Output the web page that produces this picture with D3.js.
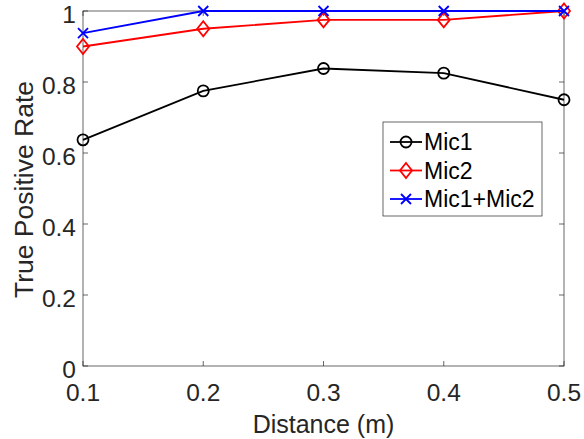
<!DOCTYPE html>
<html>
<head>
<meta charset="utf-8">
<script src="https://cdn.jsdelivr.net/npm/d3@7"></script>
<style>
  body { margin: 0; background: #fff; }
  text { font-family: "Liberation Sans", Arial, sans-serif; fill: #262626; }
</style>
</head>
<body>
<div id="chart"></div>
<script>
const distances = [0.1, 0.2, 0.3, 0.4, 0.5];
const mic1 = [0.637, 0.775, 0.838, 0.825, 0.75];
const mic2 = [0.9, 0.95, 0.975, 0.975, 1.0];
const mic12 = [0.9375, 1, 1, 1, 1];
const xTicks = [0.1, 0.2, 0.3, 0.4, 0.5];
const yTicks = [0, 0.2, 0.4, 0.6, 0.8, 1];

const width = 584, height = 439;
const margin = { top: 11, right: 20, bottom: 73, left: 83 };

const svg = d3.select('#chart').append('svg')
  .attr('width', width)
  .attr('height', height);

const x = d3.scaleLinear().domain([0.1, 0.5]).range([margin.left, width - margin.right]);
const y = d3.scaleLinear().domain([0, 1]).range([height - margin.bottom, margin.top]);

const axisColor = '#262626';
const tick = 5;

// box
const plot = svg.append('g');
plot.append('rect')
  .attr('x', x(0.1)).attr('y', y(1))
  .attr('width', x(0.5) - x(0.1)).attr('height', y(0) - y(1))
  .attr('fill', 'none').attr('stroke', axisColor).attr('stroke-width', 0.7);

// inward ticks on all sides
xTicks.forEach(t => {
  plot.append('line').attr('x1', x(t)).attr('x2', x(t)).attr('y1', y(0)).attr('y2', y(0) - tick)
    .attr('stroke', axisColor).attr('stroke-width', 0.7);
  plot.append('line').attr('x1', x(t)).attr('x2', x(t)).attr('y1', y(1)).attr('y2', y(1) + tick)
    .attr('stroke', axisColor).attr('stroke-width', 0.7);
  svg.append('text').attr('x', x(t)).attr('y', y(0) + 35)
    .attr('text-anchor', 'middle').attr('font-size', 24.5).text(t);
});
yTicks.forEach(t => {
  plot.append('line').attr('x1', x(0.1)).attr('x2', x(0.1) + tick).attr('y1', y(t)).attr('y2', y(t))
    .attr('stroke', axisColor).attr('stroke-width', 0.7);
  plot.append('line').attr('x1', x(0.5)).attr('x2', x(0.5) - tick).attr('y1', y(t)).attr('y2', y(t))
    .attr('stroke', axisColor).attr('stroke-width', 0.7);
  svg.append('text').attr('x', x(0.1) - 7).attr('y', y(t) + 12)
    .attr('text-anchor', 'end').attr('font-size', 24.5).text(t);
});

svg.append('text')
  .attr('x', (x(0.1) + x(0.5)) / 2).attr('y', 433)
  .attr('text-anchor', 'middle').attr('font-size', 25).text('Distance (m)');
svg.append('text')
  .attr('transform', `translate(33,${(y(0) + y(1)) / 2 + 1}) rotate(-90)`)
  .attr('text-anchor', 'middle').attr('font-size', 26.5).text('True Positive Rate');

const series = [
  { name: 'Mic1', values: mic1, color: '#000000', marker: 'circle' },
  { name: 'Mic2', values: mic2, color: '#ff0000', marker: 'diamond' },
  { name: 'Mic1+Mic2', values: mic12, color: '#0000ff', marker: 'cross' }
];

function drawMarker(g, type, cx, cy, color) {
  if (type === 'circle') {
    g.append('circle').attr('cx', cx).attr('cy', cy).attr('r', 5.5)
      .attr('fill', 'none').attr('stroke', color).attr('stroke-width', 1.8);
  } else if (type === 'diamond') {
    g.append('path').attr('d', `M${cx},${cy - 7.5}L${cx + 6},${cy}L${cx},${cy + 7.5}L${cx - 6},${cy}Z`)
      .attr('fill', 'none').attr('stroke', color).attr('stroke-width', 1.8);
  } else {
    const s = 5;
    g.append('path').attr('d', `M${cx - s},${cy - s}L${cx + s},${cy + s}M${cx - s},${cy + s}L${cx + s},${cy - s}`)
      .attr('fill', 'none').attr('stroke', color).attr('stroke-width', 1.8);
  }
}

const line = d3.line().x(d => x(d[0])).y(d => y(d[1]));

series.forEach(s => {
  const pts = distances.map((d, i) => [d, s.values[i]]);
  const g = svg.append('g');
  g.append('path').attr('d', line(pts))
    .attr('fill', 'none').attr('stroke', s.color).attr('stroke-width', 1.8);
  pts.forEach(p => drawMarker(g, s.marker, x(p[0]), y(p[1]), s.color));
});

// legend
const lg = svg.append('g').attr('transform', 'translate(383,122)');
lg.append('rect').attr('width', 159).attr('height', 94)
  .attr('fill', '#fff').attr('stroke', axisColor).attr('stroke-width', 0.7);
series.forEach((s, i) => {
  const cy = 20 + i * 28.5;
  lg.append('line').attr('x1', 7).attr('x2', 39).attr('y1', cy).attr('y2', cy)
    .attr('stroke', s.color).attr('stroke-width', 1.8);
  drawMarker(lg, s.marker, 23, cy, s.color);
  lg.append('text').attr('x', 41).attr('y', cy + 8).attr('font-size', 23)
    .style('fill', '#000').text(s.name);
});
</script>
</body>
</html>
